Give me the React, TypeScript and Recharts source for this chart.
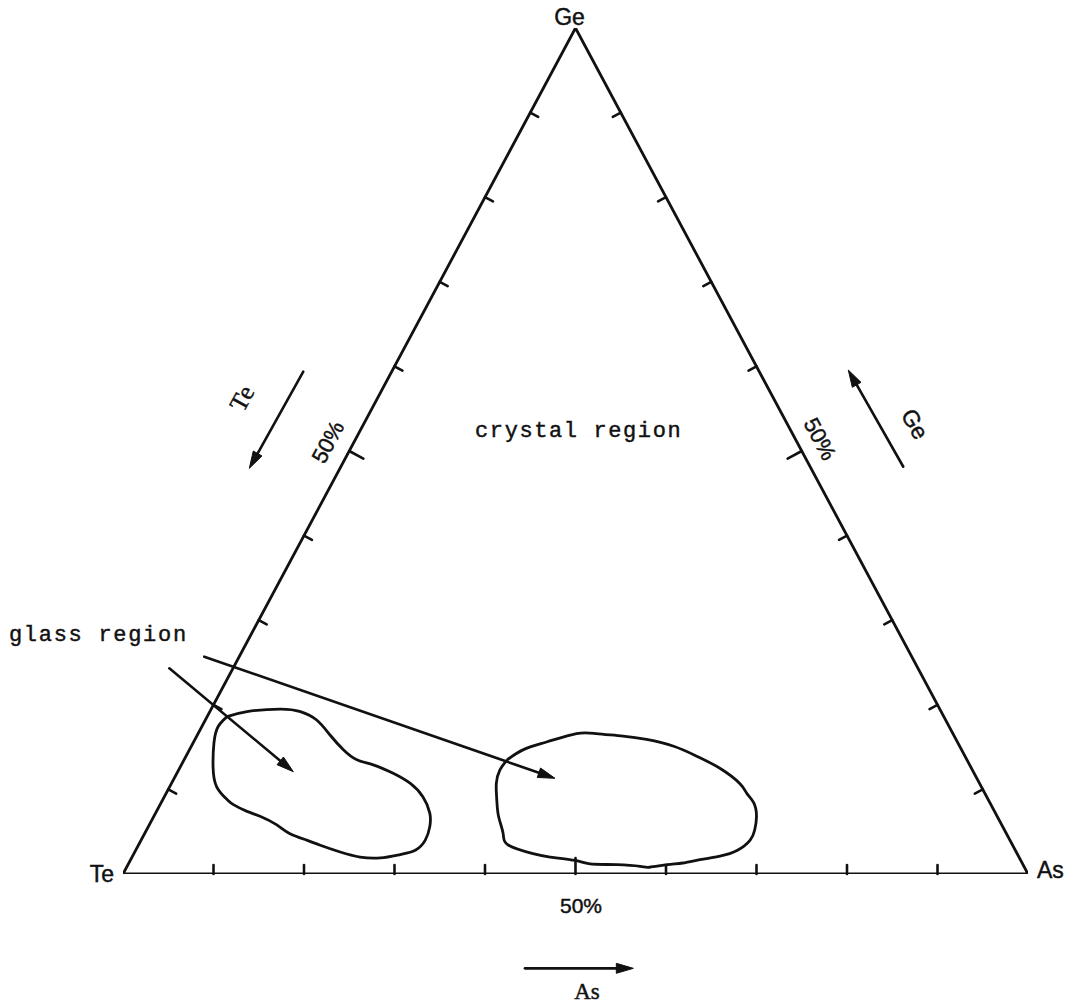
import React from 'react';
import { ComposedChart, Line, XAxis, YAxis, ReferenceLine, ReferenceDot } from 'recharts';

// Ternary Ge–As–Te diagram. Compositions are [As %, Ge %]; Te is the remainder.
// Plot coordinates: x = As + Ge / 2, y = Ge (both 0..100).

const VERTICES = [
  { name: 'Te', as: 0, ge: 0 },
  { name: 'Ge', as: 0, ge: 100 },
  { name: 'As', as: 100, ge: 0 },
];

const TICK_STEPS = [10, 20, 30, 40, 50, 60, 70, 80, 90];

// Glass-forming region near the Te corner
const GLASS_TE_SIDE: [number, number][] = [
  [2.2, 18.6], [4.1, 19.2], [7.6, 19.5], [10.0, 19.2], [12.3, 18.2], [14.7, 16.4],
  [17.0, 14.7], [19.1, 13.5], [21.2, 12.9], [23.9, 11.9], [26.4, 10.7], [28.6, 9.1],
  [30.3, 7.2], [31.1, 5.6], [31.4, 4.0], [30.9, 2.8], [29.5, 2.3], [27.5, 1.9],
  [25.2, 2.0], [22.7, 2.6], [20.1, 3.4], [18.3, 4.0], [16.0, 4.8], [14.1, 5.8],
  [11.8, 6.8], [10.0, 7.4], [8.1, 8.2], [7.1, 8.8], [5.2, 10.3], [3.6, 12.7],
  [2.3, 15.5], [1.8, 17.4],
];

// Glass-forming region around the As–Te midpoint
const GLASS_AS_SIDE: [number, number][] = [
  [35.7, 13.5], [36.9, 14.7], [39.0, 15.6], [41.8, 16.6], [44.0, 16.6], [47.1, 16.3],
  [49.9, 15.9], [53.3, 15.1], [56.5, 13.9], [59.7, 12.5], [62.8, 10.7], [64.2, 9.5],
  [65.5, 8.4], [66.6, 6.8], [67.2, 5.2], [67.3, 4.0], [66.5, 2.8], [64.9, 2.1],
  [62.9, 1.7], [61.2, 1.3], [59.6, 1.1], [57.8, 0.8], [56.7, 0.9], [54.0, 1.1],
  [51.0, 1.2], [49.2, 1.6], [46.2, 2.0], [44.1, 2.4], [40.9, 3.4], [39.6, 4.8],
  [38.1, 6.8], [36.9, 8.8], [35.9, 10.7], [35.5, 12.3],
];

// Annotation arrows, in plot units (from -> to)
const ARROWS = [
  { from: [5.12, 24.31], to: [18.82, 12.09] },   // glass region -> left field
  { from: [8.98, 25.69], to: [47.73, 11.31] },   // glass region -> right field
  { from: [19.92, 59.37], to: [13.96, 47.95] },  // Te direction
  { from: [86.22, 48.14], to: [80.14, 59.57] },  // Ge direction
  { from: [44.42, -11.15], to: [56.39, -11.15] }, // As direction
];

const MONO = '"Liberation Mono", "DejaVu Sans Mono", monospace';
const SANS = '"Liberation Sans", Arial, sans-serif';
const SERIF = '"Liberation Serif", "Times New Roman", serif';

type Label = {
  text: string; x: number; y: number; rotate?: number; anchor?: 'start' | 'middle' | 'end';
  font: string; size: number; spacing?: number; dx?: number; dy?: number; central?: boolean;
};

const LABELS: Label[] = [
  { text: 'Ge', x: 50, y: 100, anchor: 'middle', font: SANS, size: 23, dx: -6, dy: -3 },
  { text: 'Te', x: 0, y: 0, anchor: 'end', font: SANS, size: 23, dx: -9, dy: 8 },
  { text: 'As', x: 100, y: 0, anchor: 'start', font: SANS, size: 23, dx: 9, dy: 4 },
  { text: '50%', x: 50.61, y: -4.61, anchor: 'middle', font: SANS, size: 21 },
  { text: '50%', x: 22.65, y: 51.06, anchor: 'middle', font: SANS, size: 22, rotate: -62, central: true },
  { text: '50%', x: 77.02, y: 51.42, anchor: 'middle', font: SANS, size: 22, rotate: 62, central: true },
  { text: 'Te', x: 13.12, y: 56.23, anchor: 'middle', font: SERIF, size: 25, rotate: -61, central: true },
  { text: 'Ge', x: 87.51, y: 53.19, anchor: 'middle', font: SANS, size: 23, rotate: 60, central: true },
  { text: 'As', x: 51.27, y: -14.78, anchor: 'middle', font: SERIF, size: 23 },
  { text: 'crystal region', x: 38.9, y: 51.65, anchor: 'start', font: MONO, size: 22, spacing: 1.6 },
  { text: 'glass region', x: -12.6, y: 27.54, anchor: 'start', font: MONO, size: 22, spacing: 1.7 },
];

const INK = '#111';

const toPlot = (as: number, ge: number) => ({ x: as + ge / 2, y: ge });

const outline = VERTICES.concat([VERTICES[0]]).map((v) => toPlot(v.as, v.ge));
const loop = (pts: [number, number][]) =>
  pts.concat([pts[0]]).map(([as, ge]) => toPlot(as, ge));

// Each tick is a segment from its edge point towards the edge's far vertex;
// the shape turns it into a short inward stroke.
const ticks = TICK_STEPS.flatMap((t) => [
  { key: `l${t}`, t, seg: [toPlot(0, t), toPlot(0, 100)] },
  { key: `r${t}`, t, seg: [toPlot(t, 100 - t), toPlot(100, 0)] },
  { key: `b${t}`, t, seg: [toPlot(t, 0), toPlot(0, 0)] },
]);

const tickShape = (len: number) => (props: any) => {
  const { x1, y1, x2, y2 } = props;
  const dx = x2 - x1;
  const dy = y2 - y1;
  const d = Math.hypot(dx, dy) || 1;
  const nx = -dy / d;
  const ny = dx / d;
  return (
    <line x1={x1} y1={y1} x2={x1 + nx * len} y2={y1 + ny * len}
      stroke={INK} strokeWidth={2.6} strokeLinecap="round" />
  );
};

const arrowShape = (props: any) => {
  const { x1, y1, x2, y2 } = props;
  const dx = x2 - x1;
  const dy = y2 - y1;
  const d = Math.hypot(dx, dy) || 1;
  const ux = dx / d;
  const uy = dy / d;
  const L = 17;
  const W = 5;
  const bx = x2 - ux * L;
  const by = y2 - uy * L;
  return (
    <g>
      <line x1={x1} y1={y1} x2={bx + ux * 3} y2={by + uy * 3} stroke={INK} strokeWidth={2.6} strokeLinecap="round" />
      <polygon
        points={`${x2},${y2} ${bx - uy * W},${by + ux * W} ${bx + uy * W},${by - ux * W}`}
        fill={INK}
        stroke={INK}
        strokeWidth={1}
        strokeLinejoin="round"
      />
    </g>
  );
};

const labelShape = (l: Label) => (props: any) => {
  const cx = props.cx + (l.dx || 0);
  const cy = props.cy + (l.dy || 0);
  return (
    <text
      x={cx}
      y={cy}
      textAnchor={l.anchor || 'middle'}
      dominantBaseline={l.central ? 'central' : 'alphabetic'}
      fontFamily={l.font}
      fontSize={l.size}
      letterSpacing={l.spacing || 0}
      fill={INK}
      stroke={INK}
      strokeWidth={0.45}
      transform={l.rotate ? `rotate(${l.rotate} ${cx} ${cy})` : undefined}
    >
      {l.text}
    </text>
  );
};

export default function App() {
  return (
    <div style={{ position: 'absolute', top: 0, left: 0 }}>
      <ComposedChart
        width={1081}
        height={1006}
        margin={{ top: 28, right: 53, bottom: 132, left: 123 }}
      >
        <XAxis type="number" dataKey="x" domain={[0, 100]} allowDataOverflow hide />
        <YAxis type="number" dataKey="y" domain={[0, 100]} allowDataOverflow hide />

        <Line data={outline} dataKey="y" type="linear" stroke={INK} strokeWidth={2.8}
          dot={false} activeDot={false} isAnimationActive={false} strokeLinejoin="miter" />
        <Line data={loop(GLASS_TE_SIDE)} dataKey="y" type="natural" stroke={INK} strokeWidth={2.8}
          dot={false} activeDot={false} isAnimationActive={false} />
        <Line data={loop(GLASS_AS_SIDE)} dataKey="y" type="natural" stroke={INK} strokeWidth={2.8}
          dot={false} activeDot={false} isAnimationActive={false} />

        {ticks.map((tk) => (
          <ReferenceLine key={tk.key} segment={tk.seg} ifOverflow="visible"
            shape={tickShape(tk.t === 50 ? 16 : 9)} />
        ))}

        {ARROWS.map((a, i) => (
          <ReferenceLine key={`a${i}`} ifOverflow="visible"
            segment={[{ x: a.from[0], y: a.from[1] }, { x: a.to[0], y: a.to[1] }]}
            shape={arrowShape} />
        ))}

        {LABELS.map((l, i) => (
          <ReferenceDot key={`t${i}`} x={l.x} y={l.y} r={0} ifOverflow="visible"
            shape={labelShape(l)} />
        ))}
      </ComposedChart>
    </div>
  );
}
